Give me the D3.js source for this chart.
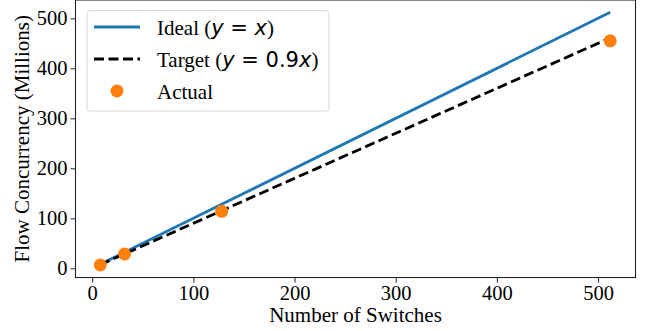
<!DOCTYPE html>
<html><head><meta charset="utf-8">
<script src="https://cdn.jsdelivr.net/npm/d3@7"></script>
<style>body{margin:0;background:#fff}svg{display:block}</style>
</head><body>
<svg id="c" width="649" height="331"></svg>
<script>
const switches = [8, 32, 128, 512];
const idealValues = [8, 32, 128, 512];
const targetValues = [7.2, 28.8, 115.2, 460.8];
const actualValues = [6.6, 28.6, 114, 455];
const xTicks = [0, 100, 200, 300, 400, 500];
const yTicks = [0, 100, 200, 300, 400, 500];
const xLabel = "Number of Switches";
const yLabel = "Flow Concurrency (Millions)";

const serif = "Liberation Serif, Times New Roman, serif";
const sans = "DejaVu Sans, sans-serif";
const svg = d3.select("#c");
const L = 75.5, R = 635.5, T = 0, B = 277.5;
const x = d3.scaleLinear().domain([-16.5, 537]).range([L, R]);
const y = d3.scaleLinear().domain([-18.4, 536.6]).range([B, T]);

// axes
const xa = svg.append("g").attr("transform", `translate(0,${B})`)
  .call(d3.axisBottom(x).tickValues(xTicks).tickSize(5).tickPadding(2.5).tickSizeOuter(0));
const ya = svg.append("g").attr("transform", `translate(${L},0)`)
  .call(d3.axisLeft(y).tickValues(yTicks).tickSize(5).tickPadding(3).tickSizeOuter(0));
[xa, ya].forEach(a => {
  a.attr("font-family", null).attr("font-size", null);
  a.select(".domain").remove();
  a.selectAll("line").attr("stroke", "#222").attr("stroke-width", 1);
  a.selectAll("text").style("font-family", serif).style("font-size", "20.5px").attr("fill", "#000");
});
// frame
svg.append("rect").attr("x", L).attr("y", T).attr("width", R - L).attr("height", B - T)
  .attr("fill", "none").attr("stroke", "#222").attr("stroke-width", 1.1);

const line = d3.line().x((d, i) => x(switches[i])).y(d => y(d));
svg.append("path").datum(idealValues).attr("d", line)
  .attr("fill", "none").attr("stroke", "#1f77b4").attr("stroke-width", 2.8);
svg.append("path").datum(targetValues).attr("d", line)
  .attr("fill", "none").attr("stroke", "#000").attr("stroke-width", 2.8)
  .attr("stroke-dasharray", "10,4.5");
svg.selectAll("circle.pt").data(actualValues).enter().append("circle")
  .attr("cx", (d, i) => x(switches[i])).attr("cy", d => y(d)).attr("r", 6.5)
  .attr("fill", "#ff7f0e");

// axis labels
svg.append("text").attr("x", (L + R) / 2).attr("y", 321.5).attr("text-anchor", "middle")
  .style("font-family", serif).style("font-size", "21px").text(xLabel);
svg.append("text").attr("transform", `translate(29,${(T + B) / 2}) rotate(-90)`)
  .attr("text-anchor", "middle").style("font-family", serif).style("font-size", "21px").text(yLabel);

// legend
const lg = svg.append("g");
lg.append("rect").attr("x", 87).attr("y", 10.5).attr("width", 242).attr("height", 100.5)
  .attr("rx", 3).attr("fill", "#fff").attr("fill-opacity", 0.8).attr("stroke", "#d6d6d6").attr("stroke-width", 1);
const entries = [
  {type: "ideal", parts: [["Ideal (", serif, "normal"], ["y", sans, "italic"], [" = ", sans, "normal"], ["x", sans, "italic"], [")", serif, "normal"]]},
  {type: "target", parts: [["Target (", serif, "normal"], ["y", sans, "italic"], [" = 0.9", sans, "normal"], ["x", sans, "italic"], [")", serif, "normal"]]},
  {type: "actual", parts: [["Actual", serif, "normal"]]}
];
const rowY = [27, 59, 91];
entries.forEach((e, i) => {
  const cy = rowY[i];
  if (e.type === "ideal") lg.append("line").attr("x1", 94).attr("x2", 140).attr("y1", cy).attr("y2", cy)
    .attr("stroke", "#1f77b4").attr("stroke-width", 2.8);
  if (e.type === "target") lg.append("line").attr("x1", 94).attr("x2", 140).attr("y1", cy).attr("y2", cy)
    .attr("stroke", "#000").attr("stroke-width", 2.8).attr("stroke-dasharray", "10,4.5");
  if (e.type === "actual") lg.append("circle").attr("cx", 117).attr("cy", cy).attr("r", 6.5).attr("fill", "#ff7f0e");
  const t = lg.append("text").attr("x", 157).attr("y", cy + 7.5).style("font-size", "21px").style("white-space", "pre");
  e.parts.forEach(p => t.append("tspan").style("font-family", p[1]).style("font-style", p[2]).text(p[0]));
});
</script>
</body></html>
